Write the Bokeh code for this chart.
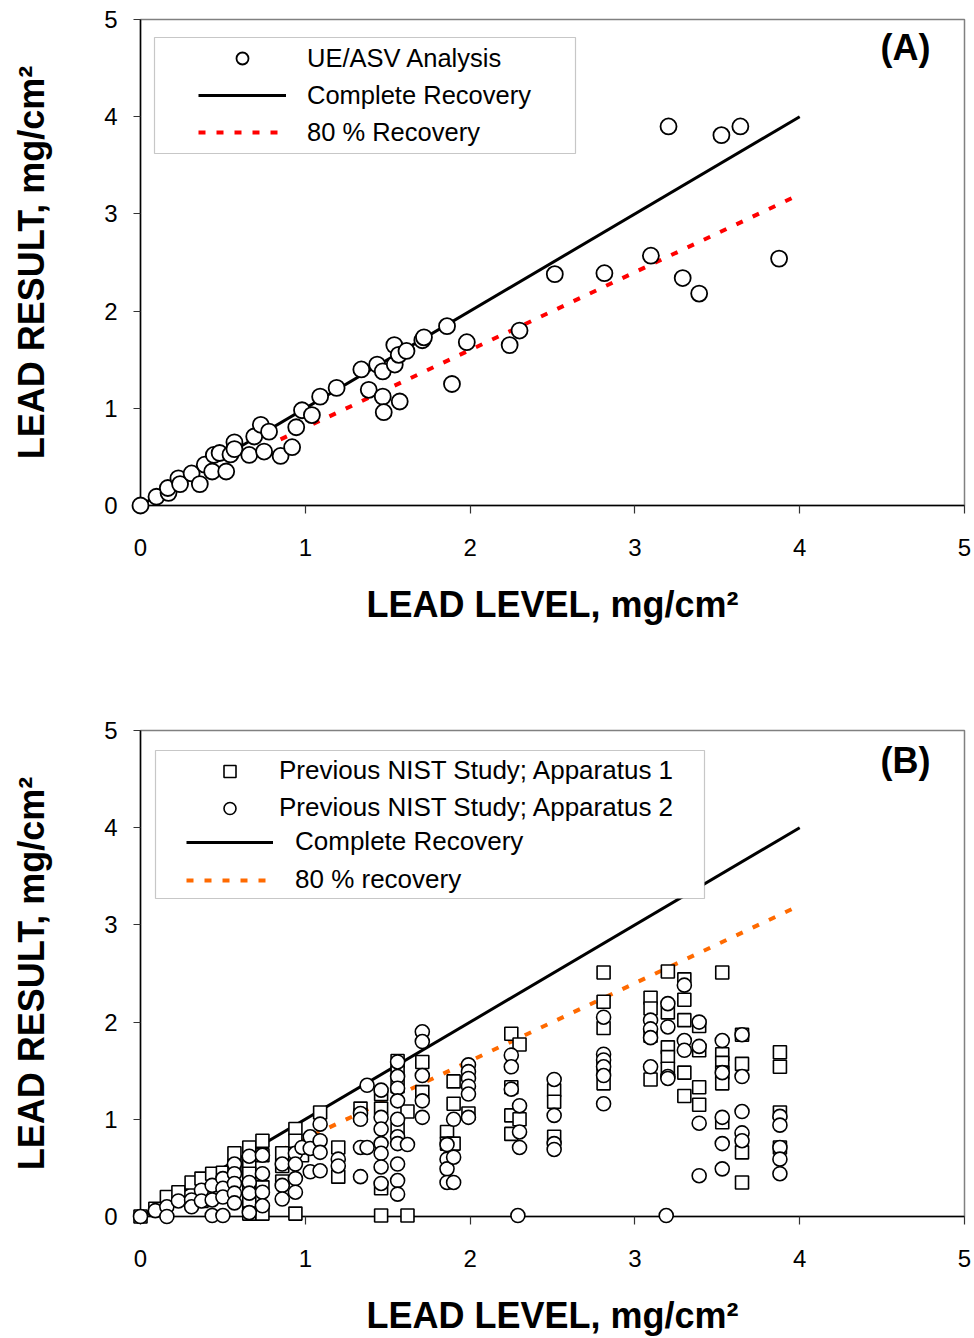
from bokeh.plotting import figure
from bokeh.models import (Legend, LegendItem, BoxAnnotation, Label, Range1d,
                          FixedTicker)
from bokeh.layouts import column
from bokeh.embed import file_html
from bokeh.resources import INLINE

# ---------------- data ----------------
# Panel A: UE/ASV analysis (lead level vs. lead result, mg/cm2)
ueasv_x = [0.0, 0.097, 0.17, 0.166, 0.23, 0.24, 0.31, 0.36, 0.39, 0.435, 0.445,
           0.48, 0.52, 0.546, 0.57, 0.57, 0.66, 0.69, 0.73, 0.75, 0.78, 0.85,
           0.92, 0.945, 0.98, 1.04, 1.09, 1.19, 1.34, 1.385, 1.436, 1.47, 1.47,
           1.476, 1.54, 1.543, 1.567, 1.573, 1.614, 1.71, 1.72, 1.86, 1.89,
           1.98, 2.24, 2.30, 2.514, 2.815, 3.097, 3.204, 3.29, 3.39, 3.525,
           3.64, 3.875]
ueasv_y = [0.0, 0.09, 0.13, 0.18, 0.28, 0.22, 0.33, 0.22, 0.42, 0.35, 0.52,
           0.54, 0.35, 0.525, 0.65, 0.58, 0.52, 0.71, 0.83, 0.555, 0.76, 0.51,
           0.60, 0.805, 0.98, 0.93, 1.12, 1.21, 1.40, 1.19, 1.45, 1.38, 1.12,
           0.96, 1.65, 1.45, 1.55, 1.07, 1.59, 1.70, 1.73, 1.845, 1.25,
           1.68, 1.65, 1.80, 2.38, 2.39, 2.57, 3.90, 2.34, 2.18, 3.81,
           3.90, 2.54]

# Panel B: previous NIST study, apparatus 1 (squares)
app1_x = [0.0, 0.09, 0.16, 0.23, 0.31, 0.37, 0.37, 0.435, 0.5, 0.57, 0.57,
          0.66, 0.66, 0.66, 0.66, 0.66, 0.66, 0.74, 0.74, 0.74, 0.74, 0.86,
          0.86, 0.86, 0.94, 0.94, 0.94, 0.98, 1.09, 1.2, 1.2, 1.335, 1.335,
          1.46, 1.46, 1.46, 1.46, 1.56, 1.56, 1.56, 1.56, 1.62, 1.62, 1.71,
          1.71, 1.86, 1.86, 1.90, 1.90, 1.90, 1.99, 2.25, 2.25, 2.25, 2.25,
          2.30, 2.30, 2.51, 2.51, 2.51, 2.81, 2.81, 2.81, 2.81, 2.81, 3.095,
          3.095, 3.095, 3.095, 3.2, 3.2, 3.2, 3.2, 3.2, 3.30, 3.30, 3.30,
          3.30, 3.30, 3.39, 3.39, 3.39, 3.39, 3.53, 3.53, 3.53, 3.53, 3.53,
          3.53, 3.65, 3.65, 3.65, 3.65, 3.88, 3.88, 3.88, 3.88]
app1_y = [0.0, 0.08, 0.20, 0.25, 0.35, 0.39, 0.16, 0.44, 0.45, 0.65, 0.52,
          0.71, 0.56, 0.44, 0.30, 0.15, 0.03, 0.78, 0.63, 0.30, 0.03, 0.65,
          0.52, 0.36, 0.90, 0.78, 0.03, 0.63, 1.07, 0.71, 0.41, 1.11, 1.04,
          1.26, 1.11, 0.29, 0.01, 1.60, 1.48, 1.34, 0.90, 1.08, 0.01, 1.59,
          1.28, 0.87, 0.75, 1.39, 1.16, 0.75, 1.06, 1.88, 1.33, 1.04, 0.85,
          1.77, 1.00, 1.30, 1.18, 0.82, 2.51, 2.21, 1.94, 1.55, 1.37, 2.25,
          2.14, 1.86, 1.41, 2.52, 2.10, 1.74, 1.64, 1.52, 2.44, 2.23, 2.02,
          1.48, 1.24, 1.96, 1.71, 1.33, 1.15, 2.51, 1.67, 1.58, 1.48, 1.37,
          0.97, 1.87, 1.57, 0.66, 0.35, 1.69, 1.54, 1.07, 0.71]

# Panel B: previous NIST study, apparatus 2 (circles)
app2_x = [0.0, 0.09, 0.16, 0.16, 0.23, 0.31, 0.31, 0.37, 0.37, 0.435, 0.435,
          0.435, 0.5, 0.5, 0.5, 0.5, 0.57, 0.57, 0.57, 0.57, 0.57, 0.66, 0.66,
          0.66, 0.66, 0.74, 0.74, 0.74, 0.74, 0.86, 0.86, 0.86, 0.94, 0.94,
          0.94, 0.94, 0.98, 1.03, 1.03, 1.03, 1.09, 1.09, 1.09, 1.09, 1.2,
          1.2, 1.335, 1.335, 1.335, 1.335, 1.375, 1.375, 1.46, 1.46, 1.46,
          1.46, 1.46, 1.46, 1.46, 1.56, 1.56, 1.56, 1.56, 1.56, 1.56, 1.56,
          1.56, 1.56, 1.56, 1.62, 1.71, 1.71, 1.71, 1.71, 1.71, 1.86, 1.86,
          1.86, 1.86, 1.90, 1.90, 1.90, 1.99, 1.99, 1.99, 1.99, 1.99, 1.99,
          2.25, 2.25, 2.25, 2.30, 2.30, 2.30, 2.29, 2.51, 2.51, 2.51, 2.51,
          2.81, 2.81, 2.81, 2.81, 2.81, 2.81, 3.095, 3.095, 3.095, 3.095,
          3.2, 3.2, 3.2, 3.2, 3.19, 3.30, 3.30, 3.30, 3.39, 3.39, 3.39, 3.39,
          3.53, 3.53, 3.53, 3.53, 3.53, 3.65, 3.65, 3.65, 3.65, 3.65, 3.88,
          3.88, 3.88, 3.88, 3.88]
app2_y = [0.0, 0.06, 0.10, 0.0, 0.16, 0.17, 0.10, 0.27, 0.16, 0.32, 0.17,
          0.01, 0.39, 0.29, 0.20, 0.01, 0.54, 0.44, 0.34, 0.24, 0.14, 0.62,
          0.35, 0.24, 0.04, 0.63, 0.44, 0.25, 0.11, 0.54, 0.32, 0.18, 0.65,
          0.54, 0.39, 0.25, 0.71, 0.82, 0.70, 0.46, 0.95, 0.78, 0.66, 0.47,
          0.59, 0.52, 1.06, 1.00, 0.71, 0.41, 1.35, 0.71, 1.30, 1.02, 0.90,
          0.75, 0.65, 0.51, 0.34, 1.59, 1.44, 1.32, 1.19, 1.00, 0.82, 0.75,
          0.54, 0.37, 0.23, 0.74, 1.90, 1.80, 1.45, 1.19, 1.02, 0.74, 0.59,
          0.49, 0.35, 1.00, 0.61, 0.35, 1.56, 1.49, 1.42, 1.34, 1.26, 1.02,
          1.66, 1.54, 1.31, 1.14, 0.87, 0.71, 0.01, 1.41, 1.04, 0.75, 0.69,
          2.05, 1.67, 1.61, 1.54, 1.45, 1.16, 2.02, 1.93, 1.84, 1.54,
          2.19, 1.95, 1.44, 1.42, 0.01, 2.38, 1.81, 1.71, 2.00, 1.75, 0.96,
          0.42, 1.81, 1.48, 1.02, 0.75, 0.49, 1.87, 1.44, 1.08, 0.86, 0.78,
          1.03, 0.94, 0.71, 0.59, 0.44]

# Reference lines
complete_x = [0.0, 4.0]
complete_y = [0.0, 4.0]
eighty_x = [0.85, 4.0]
eighty_y = [0.68, 3.2]

axis_ticks = [0, 1, 2, 3, 4, 5]

FONT = "Liberation Sans"


def make_panel(top_border, bottom_border):
    p = figure(frame_width=824, frame_height=486,
               x_range=Range1d(0, 5), y_range=Range1d(0, 5),
               output_backend="svg", toolbar_location=None,
               min_border_left=140, min_border_right=10,
               min_border_top=top_border, min_border_bottom=bottom_border)
    p.grid.visible = False
    p.outline_line_color = "#808080"
    p.outline_line_width = 1.5
    p.background_fill_color = "white"
    p.border_fill_color = "white"
    for ax in (p.xaxis[0], p.yaxis[0]):
        ax.ticker = FixedTicker(ticks=axis_ticks)
        ax.minor_tick_line_color = None
        ax.major_tick_in = 0
        ax.axis_line_color = "black"
        ax.axis_line_width = 1.5
        ax.major_tick_line_color = "#333333"
        ax.major_tick_line_width = 1.2
        ax.major_label_text_font = FONT
        ax.major_label_text_font_size = "24px"
        ax.major_label_text_color = "black"
        ax.axis_label_text_font = FONT
        ax.axis_label_text_font_size = "36px"
        ax.axis_label_text_font_style = "bold"
        ax.axis_label_text_color = "black"
    p.xaxis.major_tick_out = 8
    p.yaxis.major_tick_out = 7
    p.xaxis.major_label_standoff = 25
    p.yaxis.major_label_standoff = 16
    p.xaxis.axis_label_standoff = 25
    p.yaxis.axis_label_standoff = 49
    p.xaxis.axis_label = "LEAD LEVEL, mg/cm²"
    p.yaxis.axis_label = "LEAD RESULT, mg/cm²"
    return p


def style_legend(legend, glyph_width, standoff, spacing, font_size):
    legend.border_line_alpha = 0
    legend.background_fill_alpha = 0
    legend.padding = 0
    legend.margin = 0
    legend.spacing = spacing
    legend.glyph_width = glyph_width
    legend.glyph_height = 30
    legend.label_height = 30
    legend.label_standoff = standoff
    legend.label_text_font = FONT
    legend.label_text_font_size = font_size
    legend.label_text_color = "black"


def panel_tag(text, y):
    return Label(x=765, y=y, x_units="screen", y_units="screen",
                 text=text, text_font=FONT, text_font_size="36px",
                 text_font_style="bold", text_color="black",
                 text_align="center", text_baseline="middle")


# ---------------- panel A ----------------
pa = make_panel(19, 135)
la_full = pa.line(complete_x, complete_y, line_color="black", line_width=3)
la_80 = pa.line(eighty_x, eighty_y, line_color="#FF0000", line_width=4,
                line_dash="7 11")
la_pts = pa.scatter(ueasv_x, ueasv_y, marker="circle", size=16,
                    fill_color="white", line_color="black", line_width=1.8,
                    level="overlay")

pa.add_layout(BoxAnnotation(left=14, right=435, top=468, bottom=352,
                            left_units="screen", right_units="screen",
                            top_units="screen", bottom_units="screen",
                            fill_color="white", fill_alpha=1.0,
                            line_color="#444444", line_width=1.2))
leg_a = Legend(items=[LegendItem(label="UE/ASV Analysis", renderers=[la_pts]),
                      LegendItem(label="Complete Recovery", renderers=[la_full]),
                      LegendItem(label="80 % Recovery", renderers=[la_80])],
               location=(58, 358))
style_legend(leg_a, 88, 21, 7, "25.5px")
pa.add_layout(leg_a)
pa.add_layout(panel_tag("(A)", 458))

# ---------------- panel B ----------------
pb = make_panel(90, 122)
lb_full = pb.line(complete_x, complete_y, line_color="black", line_width=3)
lb_80 = pb.line(eighty_x, eighty_y, line_color="#FF6A00", line_width=4,
                line_dash="7 11")
lb_sq = pb.scatter(app1_x, app1_y, marker="square", size=13,
                   fill_color="white", line_color="black", line_width=1.6,
                   level="overlay")
lb_ci = pb.scatter(app2_x, app2_y, marker="circle", size=14,
                   fill_color="white", line_color="black", line_width=1.6,
                   level="overlay")

pb.add_layout(BoxAnnotation(left=15, right=564, top=466, bottom=318,
                            left_units="screen", right_units="screen",
                            top_units="screen", bottom_units="screen",
                            fill_color="white", fill_alpha=1.0,
                            line_color="#444444", line_width=1.2))
leg_b_marks = Legend(items=[LegendItem(label="Previous NIST Study; Apparatus 1", renderers=[lb_sq]),
                            LegendItem(label="Previous NIST Study; Apparatus 2", renderers=[lb_ci])],
                     location=(46, 393))
style_legend(leg_b_marks, 87, 6, 6, "26px")
leg_b_lines = Legend(items=[LegendItem(label="Complete Recovery", renderers=[lb_full]),
                            LegendItem(label="80 % recovery", renderers=[lb_80])],
                     location=(46, 321))
style_legend(leg_b_lines, 87, 22, 7, "26px")
pb.add_layout(leg_b_marks)
pb.add_layout(leg_b_lines)
pb.add_layout(panel_tag("(B)", 456))

layout = column(pa, pb, spacing=0)
open("out.html", "w").write(file_html(layout, INLINE))
